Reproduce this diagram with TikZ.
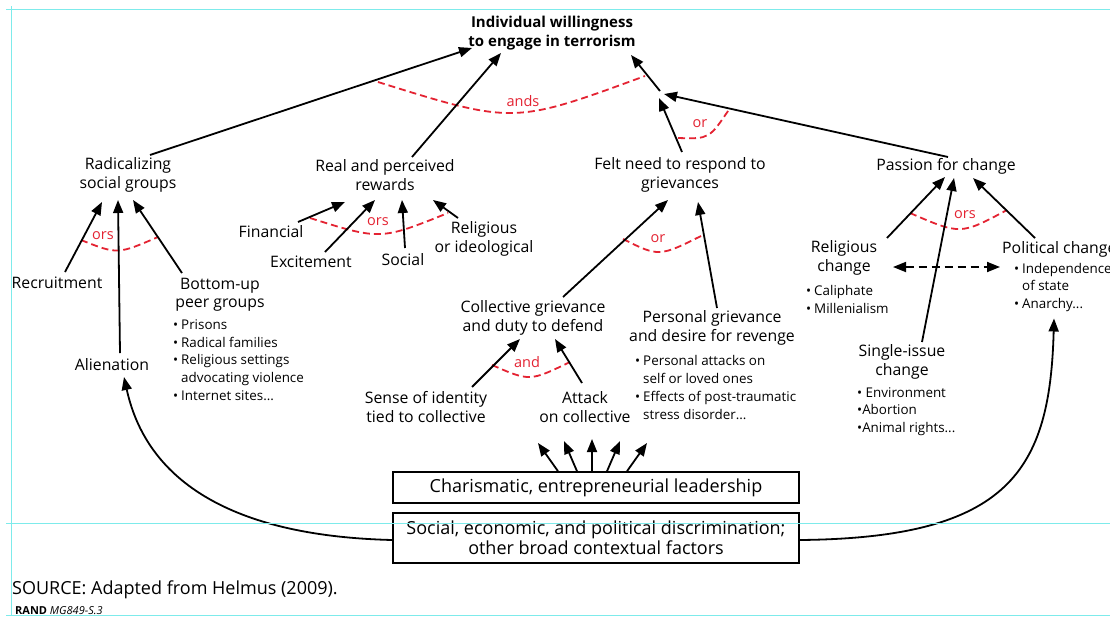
\documentclass[tikz,border=0pt]{standalone}
\usepackage{fontspec}
\setmainfont{Open Sans}
\usetikzlibrary{arrows.meta,calc}

\definecolor{orred}{RGB}{228,35,50}
\definecolor{guide}{RGB}{125,235,235}

% bullet list helpers
\newcommand\lstitem[1]{\makebox[8pt][l]{\textbullet}#1}
\newcommand\lstcont[1]{\hspace*{8pt}#1}

\tikzset{
  lbl/.style={font=\fontsize{15.8}{18.5}\selectfont, align=center, inner sep=0pt},
  ttl/.style={font=\fontsize{15}{19}\selectfont\bfseries, align=center, inner sep=0pt},
  lst/.style={font=\fontsize{13.4}{17.8}\selectfont, align=left, inner sep=0pt, anchor=west},
  boxn/.style={draw, line width=1.6pt, minimum width=406pt, font=\fontsize{18}{20}\selectfont, align=center, inner sep=0pt},
  arr/.style={line width=1.8pt, -{Triangle[length=13pt,width=10pt]}},
  dblarr/.style={line width=1.8pt, dash pattern=on 8pt off 5pt, {Triangle[length=13pt,width=10pt]}-{Triangle[length=13pt,width=10pt]}},
  orarc/.style={draw=orred, line width=1.8pt, dash pattern=on 7pt off 4pt},
  ortxt/.style={text=orred, font=\fontsize{14.5}{16}\selectfont, inner sep=0pt},
  guideline/.style={draw=guide, line width=0.8pt},
}

\begin{document}
\begin{tikzpicture}[x=1pt, y=-1pt]
\clip (0,0) rectangle (1110,616);
\fill[white] (0,0) rectangle (1110,616);

% ---------- nodes ----------
\node[ttl] (goal) at (552,33) {Individual willingness\\to engage in terrorism};

\node[lbl] (rad)  at (128,175) {Radicalizing\\social groups};
\node[lbl] (rew)  at (385,175) {Real and perceived\\rewards};
\node[lbl] (felt) at (680,175) {Felt need to respond to\\grievances};
\node[lbl] (pas)  at (946,166) {Passion for change};

\node[lbl] (recr)  at (57,283)  {Recruitment};
\node[lbl] (alien) at (112,365) {Alienation};
\node[lbl] (bot)   at (220,295) {Bottom-up\\peer groups};
\node[lst] (botlist) at (173,360)
  {\lstitem{Prisons}\\\lstitem{Radical families}\\\lstitem{Religious settings}\\\lstcont{advocating violence}\\\lstitem{Internet sites...}};

\node[lbl] (fin)   at (271,232) {Financial};
\node[lbl] (exc)   at (311,262) {Excitement};
\node[lbl] (soc)   at (403,260) {Social};
\node[lbl] (relig) at (484,239) {Religious\\or ideological};

\node[lbl] (coll)   at (533,318) {Collective grievance\\and duty to defend};
\node[lbl] (sense)  at (426,407) {Sense of identity\\tied to collective};
\node[lbl] (attack) at (585,407) {Attack\\on collective};

\node[lbl] (pers) at (712,328) {Personal grievance\\and desire for revenge};
\node[lst] (perslist) at (635,387.5)
  {\lstitem{Personal attacks on}\\\lstcont{self or loved ones}\\\lstitem{Effects of post-traumatic}\\\lstcont{stress disorder...}};

\node[lbl] (relch) at (844,258) {Religious\\change};
\node[lst] (relchlist) at (806,299.5) {\lstitem{Caliphate}\\\lstitem{Millenialism}};

\node[lbl, anchor=west] (polch) at (1002,249) {Political change};
\node[lst] (pollist) at (1014,287.5)
  {\lstitem{Independence}\\\lstcont{of state}\\\lstitem{Anarchy...}};

\node[lbl] (single) at (902,362) {Single-issue\\change};
\node[lst] (singlelist) at (857,411.5)
  {\textbullet\ Environment\\\textbullet Abortion\\\textbullet Animal rights...};

\node[boxn, minimum height=31pt] (lead) at (596,487.5) {Charismatic, entrepreneurial leadership};
\node[boxn, minimum height=50pt] (disc) at (596,538)
  {Social, economic, and political discrimination;\\other broad contextual factors};

\node[anchor=west, inner sep=0pt, font=\fontsize{18}{20}\selectfont] (src) at (12,590)
  {SOURCE: Adapted from Helmus (2009).};
\node[anchor=base west, inner sep=0pt, font=\fontsize{11}{12}\selectfont] (rand) at (15,614.5)
  {\textbf{RAND} \textit{MG849-S.3}};

% junction where the two grievance/change paths meet
\coordinate (J) at (661,93);

% free ends of the leadership arrows
\coordinate (L1) at (538,443);
\coordinate (L2) at (564,441);
\coordinate (L3) at (592,439);
\coordinate (L4) at (620,441);
\coordinate (L5) at (647,443);

% ---------- red "and/or" arcs ----------
\draw[orarc] (378,82) .. controls (513.5,124.3) .. (645,76);
\node[ortxt] (andsl) at (523,101) {ands};
\draw[orarc] (678,138) .. controls (709.3,139) .. (730,108);
\node[ortxt] (orup) at (700,124) {or};
\draw[orarc] (81,240) .. controls (117.5,254.5) .. (158,237);
\node[ortxt] (orsrad) at (103,236) {ors};
\draw[orarc] (310,218) .. controls (380.3,240.2) .. (448,213);
\node[ortxt] (orsrew) at (378,222) {ors};
\draw[orarc] (623,239) .. controls (659,257) .. (703,235);
\node[ortxt] (orfelt) at (658,239) {or};
\draw[orarc] (492,365) .. controls (529.7,381.5) .. (570,362);
\node[ortxt] (andcoll) at (527,362) {and};
\draw[orarc] (910,213) .. controls (960.5,234.9) .. (1007,210);
\node[ortxt] (orspas) at (965,215) {ors};

% ---------- arrows ----------
\draw[arr] ([shift={(22,-20)}]rad.center) -- ([shift={(-80,15)}]goal.center);
\draw[arr] ([shift={(27,-18)}]rew.center) -- ([shift={(-51,20)}]goal.center);
\draw[arr] ([shift={(2,-23)}]felt.center) -- ([shift={(-2,5)}]J);
\draw[arr] ([shift={(2,-9)}]pas.center) -- ([shift={(3,1)}]J);
\draw[arr] ([shift={(-1,-2)}]J) -- ([shift={(79,22)}]goal.center);

\draw[arr] ([shift={(8,-11)}]recr.center) -- ([shift={(-26,27)}]rad.center);
\draw[arr] ([shift={(8,-12)}]alien.center) -- ([shift={(-10,25)}]rad.center);
\draw[arr] ([shift={(-38,-22)}]bot.center) -- ([shift={(5,25)}]rad.center);

\draw[arr] ([shift={(27,-10)}]fin.center) -- ([shift={(-40,27)}]rew.center);
\draw[arr] ([shift={(14,-10)}]exc.center) -- ([shift={(-10,25)}]rew.center);
\draw[arr] ([shift={(2,-12)}]soc.center) -- ([shift={(17,25)}]rew.center);
\draw[arr] ([shift={(-26,-21)}]relig.center) -- ([shift={(48,25)}]rew.center);

\draw[arr] ([shift={(30,-21)}]coll.center) -- ([shift={(-12,25)}]felt.center);
\draw[arr] ([shift={(5,-20)}]pers.center) -- ([shift={(18,27)}]felt.center);

\draw[arr] ([shift={(46,-20)}]sense.center) -- ([shift={(-13,21)}]coll.center);
\draw[arr] ([shift={(-3,-24)}]attack.center) -- ([shift={(22,21)}]coll.center);

\draw[arr] ([shift={(43,-20)}]relch.center) -- ([shift={(-1,11)}]pas.center);
\draw[arr] ([shift={(20,-20)}]single.center) -- ([shift={(8,12)}]pas.center);
\draw[arr] ([shift={(33,-11)}]polch.west) -- ([shift={(27,12)}]pas.center);

\draw[dblarr] ([shift={(49,9)}]relch.center) -- ([shift={(-2,18)}]polch.west);

\draw[arr] ([shift={(-38,0)}]lead.north) -- (L1);
\draw[arr] ([shift={(-19,0)}]lead.north) -- (L2);
\draw[arr] ([shift={(-4,0)}]lead.north)  -- (L3);
\draw[arr] ([shift={(11,0)}]lead.north)  -- (L4);
\draw[arr] ([shift={(31,0)}]lead.north)  -- (L5);

\draw[arr] ([shift={(0,2)}]disc.west) .. controls (190,535) and (140,450) .. ([shift={(12,12)}]alien.center);
\draw[arr] ([shift={(0,2)}]disc.east) .. controls (1010,538) and (1050,470) .. ([shift={(40,31)}]pollist.west);

% ---------- layout guides ----------
\draw[guideline] (11,6) -- (11,616);
\draw[guideline] (6,9.5) -- (1110,9.5);
\draw[guideline] (6,523) -- (1110,523);
\draw[guideline] (6,615) -- (1110,615);
\end{tikzpicture}
\end{document}
